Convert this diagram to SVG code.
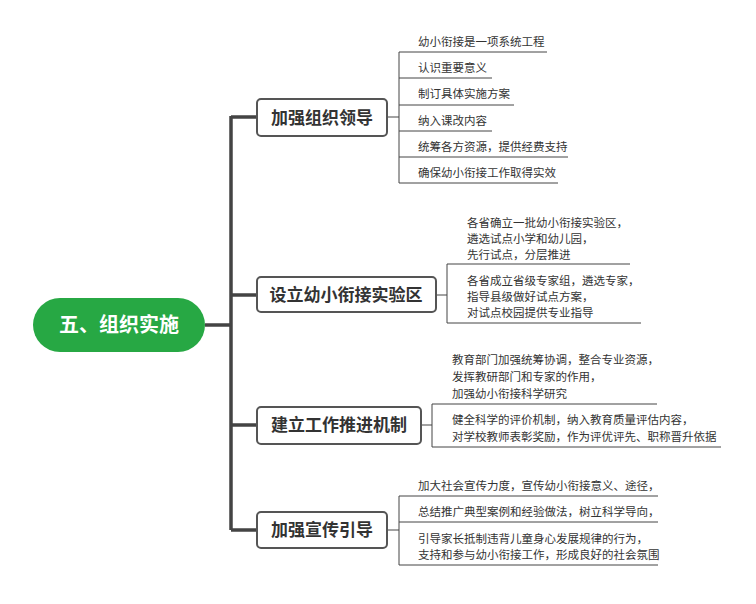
<svg xmlns="http://www.w3.org/2000/svg" width="756" height="604" viewBox="0 0 756 604">
<style>
.b{fill:#fff;stroke:#555;stroke-width:2}
.bt{font-family:"Noto Sans CJK SC",sans-serif;font-size:17px;font-weight:bold;fill:#333;text-anchor:middle}
.t{font-family:"Noto Sans CJK SC",sans-serif;font-size:11.5px;fill:#333}
.l{stroke:#444;stroke-width:1;fill:none}
.k{stroke:#444;stroke-width:3.5;fill:none}
</style>
<rect width="756" height="604" fill="#fff"/>
<g id="connectors">
<path class="k" d="M205 325H231M231 116V530M231 117H257M231 295H257M231 425H257M231 530H257"/>
<path class="l" d="M387 117H399M399 52V183M399 52H547M399 78H492M399 105H514M399 131H492M399 157H568M399 183H558"/>
<path class="l" d="M436 295H447M447 264V323M447 264H630M447 323H641"/>
<path class="l" d="M421 425H432M432 404V447M432 404H657M432 447H721"/>
<path class="l" d="M387 530H399M399 496V565M399 496H658M399 522H658M399 565H658"/>
</g>
<g id="root">
<rect x="33" y="298" width="172" height="54" rx="27" fill="#27a844"/>
<text x="119" y="332" font-family="Noto Sans CJK SC,sans-serif" font-size="20" font-weight="bold" fill="#fff" text-anchor="middle">五、组织实施</text>
</g>
<g id="n1"><rect class="b" x="257" y="99" width="130" height="37" rx="4"/><text class="bt" x="322" y="124">加强组织领导</text></g>
<g id="n2"><rect class="b" x="257" y="277" width="179" height="35" rx="4"/><text class="bt" x="346" y="301">设立幼小衔接实验区</text></g>
<g id="n3"><rect class="b" x="257" y="407" width="164" height="37" rx="4"/><text class="bt" x="339" y="431">建立工作推进机制</text></g>
<g id="n4"><rect class="b" x="257" y="512" width="130" height="36" rx="4"/><text class="bt" x="322" y="536">加强宣传引导</text></g>
<g id="leaves1">
<text class="t" x="418" y="46">幼小衔接是一项系统工程</text>
<text class="t" x="418" y="72">认识重要意义</text>
<text class="t" x="418" y="98">制订具体实施方案</text>
<text class="t" x="418" y="125">纳入课改内容</text>
<text class="t" x="418" y="151">统筹各方资源，提供经费支持</text>
<text class="t" x="418" y="177">确保幼小衔接工作取得实效</text>
</g>
<g id="leaves2">
<text class="t" x="467" y="227">各省确立一批幼小衔接实验区，</text>
<text class="t" x="467" y="243">遴选试点小学和幼儿园，</text>
<text class="t" x="467" y="259">先行试点，分层推进</text>
<text class="t" x="467" y="285">各省成立省级专家组，遴选专家，</text>
<text class="t" x="467" y="301">指导县级做好试点方案，</text>
<text class="t" x="467" y="317">对试点校园提供专业指导</text>
</g>
<g id="leaves3">
<text class="t" x="452" y="364">教育部门加强统筹协调，整合专业资源，</text>
<text class="t" x="452" y="381">发挥教研部门和专家的作用，</text>
<text class="t" x="452" y="398">加强幼小衔接科学研究</text>
<text class="t" x="452" y="424">健全科学的评价机制，纳入教育质量评估内容，</text>
<text class="t" x="452" y="441">对学校教师表彰奖励，作为评优评先、职称晋升依据</text>
</g>
<g id="leaves4">
<text class="t" x="418" y="490">加大社会宣传力度，宣传幼小衔接意义、途径，</text>
<text class="t" x="418" y="516">总结推广典型案例和经验做法，树立科学导向，</text>
<text class="t" x="418" y="543">引导家长抵制违背儿童身心发展规律的行为，</text>
<text class="t" x="418" y="559">支持和参与幼小衔接工作，形成良好的社会氛围</text>
</g>
</svg>
